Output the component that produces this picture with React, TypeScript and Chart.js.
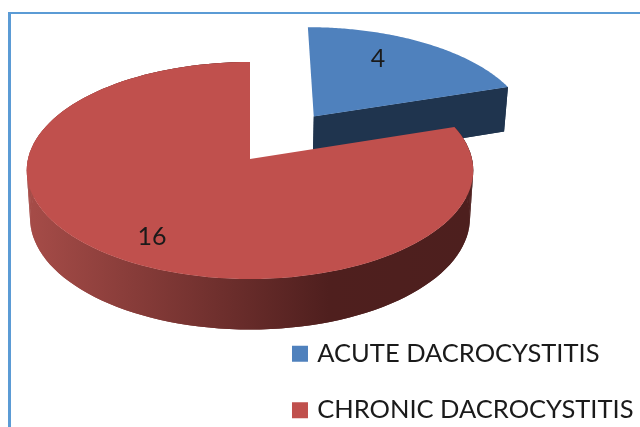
import { useEffect, useRef } from "react";
import { Chart, registerables } from "chart.js";

Chart.register(...registerables);

const categories = ["ACUTE DACROCYSTITIS", "CHRONIC DACROCYSTITIS"];
const cases = [4, 16];
const faceColours = ["#4F81BD", "#C0504D"];

// Slice explosion, expressed on the library's arc option.
const RADIUS = 100;
const EXPLODE = [102, 0];
// Where each value label sits, relative to its slice apex, in slice radii.
const LABEL_ANCHORS = [
  [0.34, -0.625],
  [-0.41, 0.675],
];

// Perspective projection of the flat pie onto the tilted disc.
const VIEW = { cx: 250, cy: 159, ax: 222, by: 107.3, k: 0.106, depth: 47, depthK: 3.5, shrink: 0.985 };

function project(u: number, v: number) {
  const w = 1 - VIEW.k * v;
  return { x: VIEW.cx + (VIEW.ax * u) / w, y: VIEW.cy + (VIEW.by * v) / w };
}
function projectLow(u: number, v: number) {
  const p = project(u, v);
  return { x: VIEW.cx + (p.x - VIEW.cx) * VIEW.shrink, y: p.y + VIEW.depth + VIEW.depthK * v };
}

function outline(arc: any) {
  const R = arc.outerRadius;
  const mid = (arc.startAngle + arc.endAngle) / 2;
  const off = (arc.options.offset || 0) / 2 / R;
  const ox = Math.cos(mid) * off;
  const oy = Math.sin(mid) * off;
  const rim: [number, number][] = [];
  const steps = 120;
  for (let i = 0; i <= steps; i++) {
    const a = arc.startAngle + ((arc.endAngle - arc.startAngle) * i) / steps;
    rim.push([ox + Math.cos(a), oy + Math.sin(a)]);
  }
  return { rim, ox, oy };
}

function ribbon(ctx: CanvasRenderingContext2D, line: [number, number][], fill: any) {
  ctx.fillStyle = fill;
  // individual quads close the folds at the far left and right of the wall
  for (let i = 0; i < line.length - 1; i++) {
    const a1 = project(line[i][0], line[i][1]);
    const b1 = project(line[i + 1][0], line[i + 1][1]);
    const a2 = projectLow(line[i][0], line[i][1]);
    const b2 = projectLow(line[i + 1][0], line[i + 1][1]);
    ctx.beginPath();
    ctx.moveTo(a1.x, a1.y);
    ctx.lineTo(b1.x, b1.y);
    ctx.lineTo(b2.x, b2.y);
    ctx.lineTo(a2.x, a2.y);
    ctx.closePath();
    ctx.fill();
  }
  // one continuous band over them hides the seams
  ctx.beginPath();
  line.forEach((p, i) => {
    const s = project(p[0], p[1]);
    if (i === 0) ctx.moveTo(s.x, s.y);
    else ctx.lineTo(s.x, s.y);
  });
  for (let i = line.length - 1; i >= 0; i--) {
    const s = projectLow(line[i][0], line[i][1]);
    ctx.lineTo(s.x, s.y);
  }
  ctx.closePath();
  ctx.fill();
}

const pie3d = {
  id: "pie3d",
  beforeDatasetDraw(chart: any) {
    const ctx = chart.ctx;
    const arcs = chart.getDatasetMeta(0).data;
    // back slice first: the small slice sits behind the large one
    arcs.forEach((arc: any, idx: number) => {
      const { rim, ox, oy } = outline(arc);
      ctx.save();
      if (idx === 1) {
        const wall = ctx.createLinearGradient(28, 0, 470, 0);
        wall.addColorStop(0, "#A64C48");
        wall.addColorStop(0.68, "#4F1F1E");
        wall.addColorStop(1, "#4D1F1E");
        ribbon(ctx, rim, wall);
      } else {
        ribbon(ctx, [rim[rim.length - 1], [ox, oy]], "#1F344E");
      }
      ctx.beginPath();
      const apex = project(ox, oy);
      ctx.moveTo(apex.x, apex.y);
      rim.forEach((p) => {
        const s = project(p[0], p[1]);
        ctx.lineTo(s.x, s.y);
      });
      ctx.closePath();
      ctx.fillStyle = arc.options.backgroundColor;
      ctx.fill();
      ctx.restore();

      const anchor = LABEL_ANCHORS[idx];
      const t = project(ox + anchor[0], oy + anchor[1]);
      ctx.save();
      ctx.fillStyle = "#1A1A1A";
      ctx.font = "25px Lato";
      ctx.textAlign = "center";
      ctx.textBaseline = "middle";
      ctx.fillText(String(chart.data.datasets[0].data[idx]), t.x, t.y);
      ctx.restore();
    });
    return false;
  },
};

export default function App() {
  const ref = useRef<HTMLCanvasElement>(null);
  useEffect(() => {
    const chart = new Chart(ref.current!, {
      type: "pie",
      data: {
        labels: categories,
        datasets: [
          {
            data: cases,
            backgroundColor: faceColours,
            borderWidth: 0,
            offset: EXPLODE,
            radius: RADIUS,
          } as any,
        ],
      },
      options: {
        animation: false,
        responsive: false,
        layout: { padding: { bottom: -27, right: -3.5 } },
        plugins: {
          tooltip: { enabled: false },
          legend: {
            position: "right",
            align: "end",
            maxWidth: 420,
            labels: {
              usePointStyle: true,
              pointStyle: "rect",
              boxWidth: 9,
              boxHeight: 16,
              padding: 31,
              color: "#1A1A1A",
              font: { family: "Lato", size: 25.5 },
            },
          },
        },
      },
      plugins: [pie3d],
    });
    return () => chart.destroy();
  }, []);
  return (
    <div style={{ position: "fixed", left: 0, top: 0, width: 640, height: 427, overflow: "hidden", background: "#fff" }}>
      <div
        style={{
          position: "absolute",
          left: 8,
          top: 12,
          width: 640,
          height: 427,
          borderLeft: "3px solid #5B9BD5",
          borderTop: "2px solid #5B9BD5",
        }}
      />
      <canvas
        ref={ref}
        width={640}
        height={427}
        style={{ position: "absolute", left: 0, top: 0, width: 640, height: 427, filter: "blur(0.5px)" }}
      />
    </div>
  );
}
